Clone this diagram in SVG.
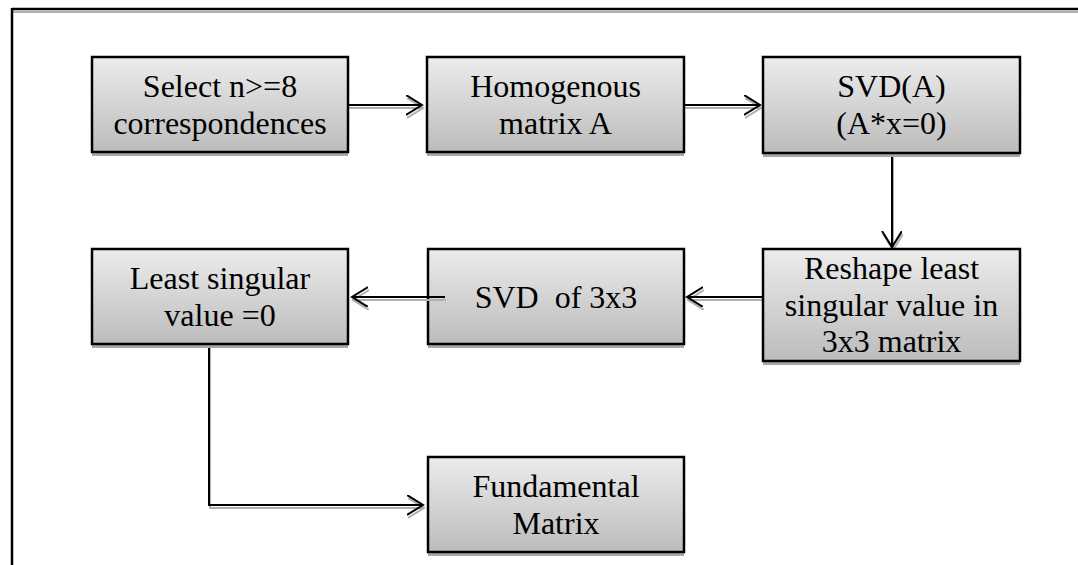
<svg xmlns="http://www.w3.org/2000/svg" width="1078" height="565" viewBox="0 0 1078 565">
<style>
.box{stroke:#000;stroke-width:2.5;fill:url(#g)}
.sh{fill:#a8a8a8}
.t{font-family:"Liberation Serif","Times New Roman",serif;font-size:32px;fill:#000;text-anchor:middle}
.ln{fill:none;stroke:#000;stroke-width:2}
.lns{fill:none;stroke:#b0b0b0;stroke-width:2}
</style>
<defs>
<linearGradient id="g" x1="0" y1="0" x2="0" y2="1">
<stop offset="0" stop-color="#ececec"/>
<stop offset="1" stop-color="#bcbcbc"/>
</linearGradient>
<marker id="a" markerWidth="20" markerHeight="24" refX="16" refY="10" orient="auto" markerUnits="userSpaceOnUse">
<path d="M0,0 L16,10 L0,20" fill="none" stroke="#000" stroke-width="2"/>
</marker>
<marker id="as" markerWidth="20" markerHeight="24" refX="16" refY="10" orient="auto" markerUnits="userSpaceOnUse">
<path d="M0,0 L16,10 L0,20" fill="none" stroke="#b0b0b0" stroke-width="2"/>
</marker>
</defs>
<rect width="1078" height="565" fill="#fff"/>
<g id="frame">
<line x1="12" y1="12" x2="1078" y2="12" stroke="#b0b0b0" stroke-width="2"/>
<line x1="12" y1="9" x2="1078" y2="9" stroke="#000" stroke-width="2.5"/>
<line x1="12" y1="8" x2="12" y2="565" stroke="#000" stroke-width="2.5"/>
</g>
<g id="connectors">
<g transform="translate(1,3)">
<line class="lns" x1="348" y1="105" x2="422" y2="105" marker-end="url(#as)"/>
<line class="lns" x1="684" y1="105" x2="760" y2="105" marker-end="url(#as)"/>
<line class="lns" x1="892" y1="153" x2="892" y2="247" marker-end="url(#as)"/>
<line class="lns" x1="763" y1="297" x2="687" y2="297" marker-end="url(#as)"/>
<polyline class="lns" points="209,344 209,505 423,505" marker-end="url(#as)"/>
</g>
<line class="ln" x1="348" y1="105" x2="422" y2="105" marker-end="url(#a)"/>
<line class="ln" x1="684" y1="105" x2="760" y2="105" marker-end="url(#a)"/>
<line class="ln" x1="892" y1="153" x2="892" y2="247" marker-end="url(#a)"/>
<line class="ln" x1="763" y1="297" x2="687" y2="297" marker-end="url(#a)"/>
<polyline class="ln" points="209,344 209,505 423,505" marker-end="url(#a)"/>
</g>
<g id="n1">
<rect class="sh" x="92" y="152" width="256" height="4"/>
<rect class="box" x="92" y="57" width="256" height="95"/>
<text class="t" x="220" y="97">Select n&gt;=8</text>
<text class="t" x="220" y="134">correspondences</text>
</g>
<g id="n2">
<rect class="sh" x="427" y="152" width="257" height="4"/>
<rect class="box" x="427" y="57" width="257" height="95"/>
<text class="t" x="555.5" y="97">Homogenous</text>
<text class="t" x="555.5" y="134">matrix A</text>
</g>
<g id="n3">
<rect class="sh" x="763" y="153" width="257" height="4"/>
<rect class="box" x="763" y="57" width="257" height="96"/>
<text class="t" x="891.5" y="97">SVD(A)</text>
<text class="t" x="891.5" y="134">(A*x=0)</text>
</g>
<g id="n4">
<rect class="sh" x="763" y="361" width="257" height="4"/>
<rect class="box" x="763" y="249" width="257" height="112"/>
<text class="t" x="891.5" y="279">Reshape least</text>
<text class="t" x="891.5" y="316">singular value in</text>
<text class="t" x="891.5" y="352">3x3 matrix</text>
</g>
<g id="n5">
<rect class="sh" x="428" y="344" width="256" height="4"/>
<rect class="box" x="428" y="249" width="256" height="95"/>
<text class="t" x="556" y="308" xml:space="preserve">SVD  of 3x3</text>
</g>
<line class="lns" x1="446" y1="300" x2="353" y2="300" marker-end="url(#as)"/>
<line class="ln" x1="445" y1="297" x2="352" y2="297" marker-end="url(#a)"/>
<g id="n6">
<rect class="sh" x="92" y="344" width="256" height="4"/>
<rect class="box" x="92" y="249" width="256" height="95"/>
<text class="t" x="220" y="289">Least singular</text>
<text class="t" x="220" y="326">value =0</text>
</g>
<g id="n7">
<rect class="sh" x="428" y="552" width="256" height="4"/>
<rect class="box" x="428" y="457" width="256" height="95"/>
<text class="t" x="556" y="497">Fundamental</text>
<text class="t" x="556" y="534">Matrix</text>
</g>
</svg>
